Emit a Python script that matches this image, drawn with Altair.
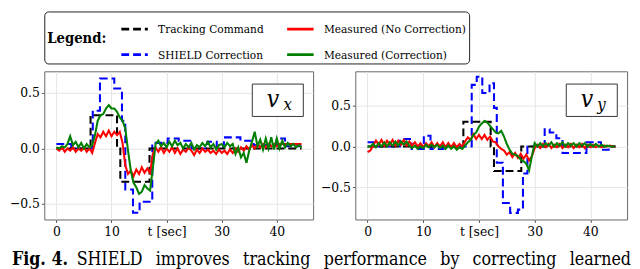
import altair as alt
import pandas as pd

SERIES = ["Tracking Command", "SHIELD Correction", "Measured (No Correction)", "Measured (Correction)"]
COLORS = ["#000000", "#0000ff", "#ff0000", "#008000"]
DASHES = [[8, 4], [8, 4], [1, 0], [1, 0]]

# sample times of measured signals (s)
T_MEAS = [k / 2 for k in range(90)]

# ---------------- v_x panel ----------------
VX_CMD_T = [0, 6.2, 11.0, 11.6, 16.9, 44.5]
VX_CMD_V = [0.0, 0.30, 0.0, -0.30, 0.0, 0.0]

VX_SHIELD_T = [0, 2.7, 6.6, 7.9, 10.5, 11.9, 12.5, 13.9, 15.1, 17.4, 20.2, 22.2,
               24.5, 27.4, 29.1, 30.4, 33.4, 35.8, 40.0, 41.5, 44.5]
VX_SHIELD_V = [0.04, 0.0, 0.34, 0.63, 0.54, 0.25, -0.37, -0.58, -0.48, 0.05, 0.09, 0.07,
               0.0, 0.06, 0.01, 0.10, 0.07, 0.03, 0.09, 0.02, 0.02]

VX_NOCORR = [
    0.00, -0.02, 0.01, -0.03, 0.00, -0.02, 0.01, -0.03, 0.00, -0.02,
    0.01, -0.03, 0.00, -0.04, 0.05, 0.13, 0.10, 0.15, 0.11, 0.16,
    0.11, 0.15, 0.12, 0.15, 0.05, -0.15, -0.23, -0.20, -0.25, -0.19,
    -0.23, -0.17, -0.22, -0.18, -0.22, -0.05, 0.01, -0.03, 0.01, -0.04,
    0.00, -0.03, 0.01, -0.04, 0.00, -0.05, -0.01, -0.03, 0.01, -0.02,
    -0.06, -0.01, -0.04, 0.00, -0.03, -0.01, -0.04, -0.02, -0.05, -0.01,
    -0.04, -0.02, -0.05, -0.01, -0.04, 0.00, -0.03, 0.01, -0.02, 0.02,
    -0.01, 0.03, 0.00, 0.04, 0.01, 0.04, 0.01, 0.04, 0.02, 0.04,
    0.02, 0.04, 0.04, 0.04, 0.04, 0.04, 0.04, 0.04, 0.04, 0.04,
]
VX_CORR = [
    0.01, 0.00, 0.02, 0.01, 0.04, 0.11, 0.03, 0.06, 0.01, 0.05,
    0.00, 0.04, 0.01, 0.03, 0.12, 0.25, 0.30, 0.31, 0.36, 0.39,
    0.36, 0.36, 0.33, 0.28, 0.25, 0.18, -0.02, -0.20, -0.31, -0.35,
    -0.41, -0.39, -0.33, -0.36, -0.38, -0.18, 0.04, 0.07, 0.02, 0.05,
    0.01, 0.06, 0.02, 0.07, 0.03, 0.05, 0.00, 0.04, 0.01, 0.05,
    -0.01, 0.03, 0.01, 0.05, 0.02, 0.06, 0.01, 0.04, -0.01, 0.03,
    0.04, 0.01, 0.05, 0.02, 0.04, -0.05, 0.01, -0.08, -0.04, -0.13,
    -0.02, 0.06, 0.15, 0.02, 0.08, -0.01, 0.09, 0.00, 0.10, -0.01,
    0.09, 0.00, 0.07, 0.01, 0.05, 0.02, 0.04, 0.01, 0.03, 0.01,
]

# ---------------- v_y panel ----------------
VY_CMD_T = [0, 17.2, 22.1, 22.7, 27.6, 44.5]
VY_CMD_V = [0.0, 0.30, 0.0, -0.30, 0.0, 0.0]

VY_SHIELD_T = [0, 1.3, 5.8, 7.9, 10.1, 11.3, 13.6, 18.7, 19.6, 20.6, 21.9, 22.7, 23.2,
               24.3, 25.6, 27.0, 27.9, 28.7, 31.8, 32.7, 33.9, 35.0, 39.3, 41.9, 43.3, 44.5]
VY_SHIELD_V = [0.05, 0.0, 0.09, -0.03, 0.13, -0.03, 0.0, 0.75, 0.85, 0.65, 0.77, 0.47, -0.20,
               -0.69, -0.81, -0.77, -0.33, 0.0, 0.21, 0.17, 0.10, -0.08, 0.05, -0.04, 0.0, 0.0]

VY_NOCORR = [
    -0.07, -0.05, 0.01, 0.07, 0.02, 0.08, 0.01, 0.07, 0.02, 0.08,
    0.01, 0.07, 0.02, 0.08, 0.01, 0.06, 0.01, 0.05, 0.00, 0.04,
    -0.01, 0.04, 0.00, 0.05, -0.01, 0.04, 0.00, 0.05, -0.01, 0.04,
    -0.01, 0.04, -0.01, 0.03, 0.00, 0.06, 0.11, 0.08, 0.15, 0.09,
    0.14, 0.09, 0.14, 0.08, 0.12, 0.06, 0.05, 0.00, -0.03, -0.05,
    -0.10, -0.07, -0.13, -0.08, -0.14, -0.09, -0.15, -0.10, -0.17, -0.12,
    -0.02, 0.02, -0.02, 0.03, -0.01, 0.03, -0.02, 0.02, -0.01, 0.03,
    -0.02, 0.02, -0.01, 0.03, -0.02, 0.02, -0.01, 0.03, -0.02, 0.02,
    -0.01, 0.02, -0.01, 0.01, -0.01, 0.01, 0.00, 0.01, 0.00, 0.00,
]
VY_CORR = [
    0.00, 0.00, 0.03, -0.01, 0.04, 0.00, 0.05, 0.00, 0.05, 0.01,
    0.06, 0.01, 0.06, 0.02, 0.06, 0.01, -0.02, 0.01, -0.03, 0.00,
    -0.02, 0.02, -0.01, 0.02, -0.01, 0.02, -0.02, 0.01, -0.03, 0.01,
    -0.03, 0.00, -0.04, -0.01, -0.03, 0.01, 0.05, 0.08, 0.14, 0.17,
    0.24, 0.28, 0.31, 0.29, 0.25, 0.21, 0.17, 0.16, 0.19, 0.12,
    0.03, -0.04, -0.09, -0.10, -0.12, -0.16, -0.18, -0.21, -0.29, -0.12,
    0.04, 0.00, 0.04, 0.00, 0.04, 0.01, 0.05, 0.00, 0.04, 0.01,
    0.05, 0.00, 0.04, 0.01, 0.04, 0.00, 0.04, 0.01, 0.04, 0.00,
    0.03, 0.00, 0.03, 0.00, 0.02, 0.00, 0.01, 0.00, 0.00, 0.00,
]

X_TICKS = [0, 10, 20, 30, 40]
Y_TICKS = [-0.5, 0.0, 0.5]
X_DOMAIN = [-2.2, 46.6]
VX_DOMAIN = [-0.64, 0.695]
VY_DOMAIN = [-0.89, 0.915]

FONT = "DejaVu Serif Condensed, DejaVu Serif"
H = 151
SP = "\u00a0\u00a0\u2009"

LEGEND = alt.Legend(
    orient="none", legendX=0, legendY=-61, columns=2, title="Legend:",
    titleOrient="left", titleFont=FONT, titleFontSize=15, titleFontWeight="bold",
    titleColor="black", titleBaseline="middle", titleAnchor="middle", titlePadding=13,
    labelFont=FONT, labelFontSize=12, labelColor="black", labelOffset=9, labelLimit=400,
    symbolType="stroke", symbolSize=729, symbolStrokeWidth=2.6,
    columnPadding=18, rowPadding=5, padding=3,
    fillColor="white", strokeColor="#222222", cornerRadius=4,
)


def panel(cmd_t, cmd_v, sh_t, sh_v, nocorr, corr, ydom, width, sub, with_caption):
    x = alt.X("t:Q", scale=alt.Scale(domain=X_DOMAIN, nice=False, zero=False),
              axis=alt.Axis(values=X_TICKS, title=None,
                            labelExpr="datum.value == 20 ? 't [sec]' : datum.label"))
    y = alt.Y("v:Q", scale=alt.Scale(domain=ydom, nice=False, zero=False),
              axis=alt.Axis(values=Y_TICKS, title=None,
                            labelExpr="datum.value < 0 ? '\u2212' + format(-datum.value, '.1f') : format(datum.value, '.1f')"))
    color = alt.Color("series:N", scale=alt.Scale(domain=SERIES, range=COLORS), legend=LEGEND)
    dash = alt.StrokeDash("series:N", scale=alt.Scale(domain=SERIES, range=DASHES), legend=LEGEND)

    def line(tt, vv, name, step):
        df = pd.DataFrame({"t": tt, "v": vv, "series": [name] * len(tt)})
        mk = alt.Chart(df).mark_line(strokeWidth=2.1, interpolate="step-after" if step else "linear",
                                     clip=True)
        return mk.encode(x=x, y=y, color=color, strokeDash=dash)

    layers = [
        line(sh_t, sh_v, SERIES[1], True),
        line(cmd_t, cmd_v, SERIES[0], True),
        line(T_MEAS, nocorr, SERIES[2], False),
        line(T_MEAS, corr, SERIES[3], False),
    ]
    one = pd.DataFrame({"k": [0]})
    box = alt.Chart(one).mark_rect(fill="white", stroke="#333333", strokeWidth=1).encode(
        x=alt.value(width - 62), x2=alt.value(width - 10), y=alt.value(13), y2=alt.value(46))
    vtxt = alt.Chart(one).mark_text(text="v", font=FONT, fontStyle="italic", fontSize=25,
                                    align="center", baseline="alphabetic", color="black").encode(
        x=alt.value(width - 41), y=alt.value(36))
    stxt = alt.Chart(one).mark_text(text=sub, font=FONT, fontStyle="italic", fontSize=17,
                                    align="center", baseline="alphabetic", color="black").encode(
        x=alt.value(width - 26), y=alt.value(39))
    layers += [box, vtxt, stxt]
    if with_caption:
        cap1 = alt.Chart(one).mark_text(text="Fig.\u00a04.", font=FONT, fontWeight="bold",
                                        fontSize=18, align="left", baseline="alphabetic",
                                        color="black").encode(x=alt.value(-33), y=alt.value(H + 46))
        cap2 = alt.Chart(one).mark_text(
            text=SP.join(["SHIELD", "improves", "tracking", "performance", "by", "correcting", "learned"]),
            font=FONT, fontSize=18, align="right", baseline="alphabetic", color="black").encode(
            x=alt.value(598), y=alt.value(H + 46))
        layers += [cap1, cap2]
    return alt.layer(*layers).properties(width=width, height=H)


p1 = panel(VX_CMD_T, VX_CMD_V, VX_SHIELD_T, VX_SHIELD_V, VX_NOCORR, VX_CORR, VX_DOMAIN, 274, "x", True)
p2 = panel(VY_CMD_T, VY_CMD_V, VY_SHIELD_T, VY_SHIELD_V, VY_NOCORR, VY_CORR, VY_DOMAIN, 277, "y", False)

chart = alt.hconcat(p1, p2, spacing=43, bounds="flush").properties(padding=0).configure_view(
    stroke="#666666", strokeWidth=1
).configure_axis(
    grid=True, gridColor="#e6e6e6", gridWidth=1, domain=False,
    tickColor="#555555", tickSize=3, labelFont=FONT, labelFontSize=14, labelColor="black",
    labelPadding=2
)

chart.save("out.html", embed_options={"renderer": "svg", "actions": False})
